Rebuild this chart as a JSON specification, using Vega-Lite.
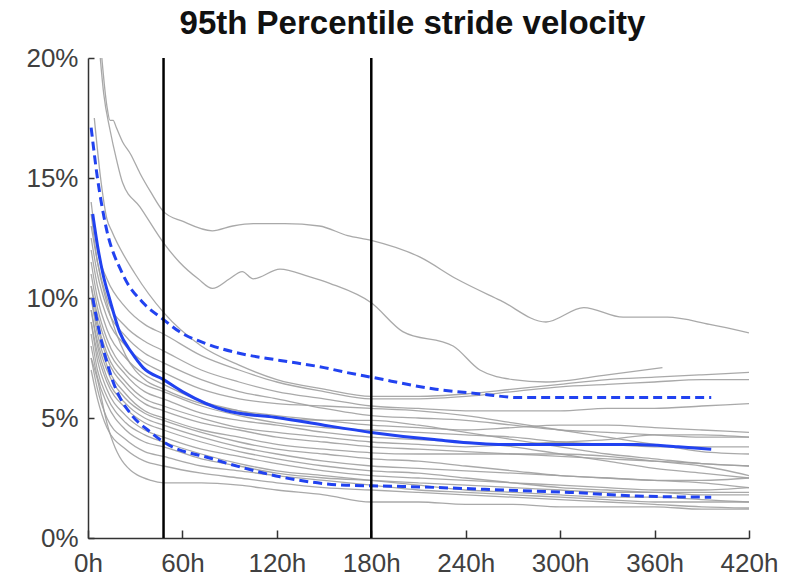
{
  "$schema": "https://vega.github.io/schema/vega-lite/v6.json",
  "autosize": {"type": "none"},
  "width": 661,
  "height": 480,
  "padding": {"left": 88, "top": 58, "right": 45, "bottom": 41},
  "background": "white",
  "config": {"view": {"stroke": null}},
  "title": {"text": "95th Percentile stride velocity", "font": "Liberation Sans", "fontSize": 33, "fontWeight": "bold", "color": "#111111", "anchor": "middle", "offset": 4, "dx": -6},
  "datasets": {
    "gray": [
      {"s":"gA","h":8,"v":20.6},{"s":"gA","h":12,"v":18},{"s":"gA","h":14,"v":17.4},{"s":"gA","h":16,"v":17.4},{"s":"gA","h":18,"v":17.1},{"s":"gA","h":22,"v":16.5},{"s":"gA","h":27,"v":16},{"s":"gA","h":33,"v":15.2},{"s":"gA","h":40,"v":14.4},{"s":"gA","h":48,"v":13.6},{"s":"gA","h":60,"v":13.2},{"s":"gA","h":79,"v":12.8},{"s":"gA","h":92,"v":13},{"s":"gA","h":105,"v":13.1},{"s":"gA","h":125,"v":13.1},{"s":"gA","h":147,"v":13},{"s":"gA","h":165,"v":12.6},{"s":"gA","h":180,"v":12.4},{"s":"gA","h":211,"v":11.7},{"s":"gA","h":234,"v":10.8},{"s":"gA","h":262,"v":9.9},{"s":"gA","h":291,"v":9.0},{"s":"gA","h":315,"v":9.6},{"s":"gA","h":340,"v":9.2},{"s":"gA","h":368,"v":9.2},{"s":"gA","h":395,"v":8.9},{"s":"gA","h":420,"v":8.55},
      {"s":"gB","h":7,"v":20.6},{"s":"gB","h":10,"v":18.5},{"s":"gB","h":14,"v":17},{"s":"gB","h":18,"v":15.8},{"s":"gB","h":22,"v":14.8},{"s":"gB","h":33,"v":13.8},{"s":"gB","h":48,"v":12.3},{"s":"gB","h":58,"v":11.5},{"s":"gB","h":70,"v":10.8},{"s":"gB","h":79,"v":10.4},{"s":"gB","h":90,"v":10.8},{"s":"gB","h":98,"v":11.1},{"s":"gB","h":105,"v":10.8},{"s":"gB","h":122,"v":11.2},{"s":"gB","h":140,"v":10.9},{"s":"gB","h":154,"v":10.6},{"s":"gB","h":180,"v":9.8},{"s":"gB","h":200,"v":8.6},{"s":"gB","h":232,"v":8.0},{"s":"gB","h":249,"v":7.0},{"s":"gB","h":270,"v":6.6},{"s":"gB","h":291,"v":6.5},{"s":"gB","h":330,"v":6.8},{"s":"gB","h":365,"v":7.1},
      {"s":"g1","h":4,"v":17.5},{"s":"g1","h":8,"v":15},{"s":"g1","h":12,"v":13.3},{"s":"g1","h":15,"v":12.8},{"s":"g1","h":30,"v":11},{"s":"g1","h":48,"v":9.4},{"s":"g1","h":72,"v":8.0},{"s":"g1","h":96,"v":7.2},{"s":"g1","h":120,"v":6.6},{"s":"g1","h":150,"v":6.2},{"s":"g1","h":180,"v":5.9},{"s":"g1","h":210,"v":5.9},{"s":"g1","h":240,"v":6.0},{"s":"g1","h":270,"v":6.2},{"s":"g1","h":300,"v":6.4},{"s":"g1","h":330,"v":6.6},{"s":"g1","h":360,"v":6.7},{"s":"g1","h":390,"v":6.8},{"s":"g1","h":420,"v":6.9},
      {"s":"g2","h":2,"v":14},{"s":"g2","h":6,"v":12},{"s":"g2","h":12,"v":10.8},{"s":"g2","h":24,"v":9.6},{"s":"g2","h":36,"v":8.9},{"s":"g2","h":48,"v":8.5},{"s":"g2","h":72,"v":7.6},{"s":"g2","h":96,"v":7.0},{"s":"g2","h":120,"v":6.5},{"s":"g2","h":150,"v":6.1},{"s":"g2","h":180,"v":5.8},{"s":"g2","h":210,"v":5.8},{"s":"g2","h":240,"v":5.9},{"s":"g2","h":270,"v":6.1},{"s":"g2","h":300,"v":6.3},{"s":"g2","h":330,"v":6.4},{"s":"g2","h":360,"v":6.5},{"s":"g2","h":390,"v":6.6},{"s":"g2","h":420,"v":6.6},
      {"s":"g3","h":2,"v":13},{"s":"g3","h":6,"v":11.5},{"s":"g3","h":12,"v":10},{"s":"g3","h":24,"v":8.8},{"s":"g3","h":36,"v":8.2},{"s":"g3","h":48,"v":7.8},{"s":"g3","h":72,"v":7.0},{"s":"g3","h":96,"v":6.5},{"s":"g3","h":120,"v":6.1},{"s":"g3","h":150,"v":5.8},{"s":"g3","h":180,"v":5.5},{"s":"g3","h":210,"v":5.4},{"s":"g3","h":240,"v":5.3},{"s":"g3","h":270,"v":5.3},{"s":"g3","h":300,"v":5.3},{"s":"g3","h":330,"v":5.4},{"s":"g3","h":360,"v":5.4},{"s":"g3","h":390,"v":5.5},{"s":"g3","h":420,"v":5.6},
      {"s":"g4","h":2,"v":12.5},{"s":"g4","h":6,"v":11},{"s":"g4","h":12,"v":9.6},{"s":"g4","h":24,"v":8.4},{"s":"g4","h":36,"v":7.7},{"s":"g4","h":48,"v":7.3},{"s":"g4","h":72,"v":6.6},{"s":"g4","h":96,"v":6.1},{"s":"g4","h":120,"v":5.8},{"s":"g4","h":150,"v":5.4},{"s":"g4","h":180,"v":5.1},{"s":"g4","h":210,"v":5.0},{"s":"g4","h":240,"v":4.9},{"s":"g4","h":270,"v":4.7},{"s":"g4","h":300,"v":4.5},{"s":"g4","h":330,"v":4.4},{"s":"g4","h":360,"v":4.3},{"s":"g4","h":390,"v":4.2},{"s":"g4","h":420,"v":4.2},
      {"s":"g5","h":2,"v":12},{"s":"g5","h":6,"v":10.5},{"s":"g5","h":12,"v":9.2},{"s":"g5","h":24,"v":8},{"s":"g5","h":36,"v":7.3},{"s":"g5","h":48,"v":6.9},{"s":"g5","h":72,"v":6.2},{"s":"g5","h":96,"v":5.8},{"s":"g5","h":120,"v":5.6},{"s":"g5","h":150,"v":5.5},{"s":"g5","h":180,"v":5.4},{"s":"g5","h":210,"v":5.3},{"s":"g5","h":240,"v":5.1},{"s":"g5","h":270,"v":4.8},{"s":"g5","h":300,"v":4.5},{"s":"g5","h":330,"v":4.2},{"s":"g5","h":360,"v":3.9},{"s":"g5","h":390,"v":3.6},{"s":"g5","h":420,"v":3.5},
      {"s":"g6","h":2,"v":11.5},{"s":"g6","h":6,"v":10},{"s":"g6","h":12,"v":8.7},{"s":"g6","h":24,"v":7.5},{"s":"g6","h":36,"v":6.8},{"s":"g6","h":48,"v":6.4},{"s":"g6","h":72,"v":5.7},{"s":"g6","h":96,"v":5.3},{"s":"g6","h":120,"v":5.0},{"s":"g6","h":150,"v":4.9},{"s":"g6","h":180,"v":4.9},{"s":"g6","h":210,"v":4.7},{"s":"g6","h":240,"v":4.4},{"s":"g6","h":270,"v":4.1},{"s":"g6","h":300,"v":3.8},{"s":"g6","h":330,"v":3.5},{"s":"g6","h":360,"v":3.3},{"s":"g6","h":390,"v":3.1},{"s":"g6","h":420,"v":3.0},
      {"s":"g7","h":2,"v":11},{"s":"g7","h":6,"v":9.6},{"s":"g7","h":12,"v":8.3},{"s":"g7","h":24,"v":7.0},{"s":"g7","h":36,"v":6.4},{"s":"g7","h":48,"v":6.1},{"s":"g7","h":72,"v":5.5},{"s":"g7","h":96,"v":5.1},{"s":"g7","h":120,"v":4.8},{"s":"g7","h":150,"v":4.6},{"s":"g7","h":180,"v":4.5},{"s":"g7","h":210,"v":4.4},{"s":"g7","h":240,"v":4.3},{"s":"g7","h":270,"v":4.2},{"s":"g7","h":300,"v":4.0},{"s":"g7","h":330,"v":3.9},{"s":"g7","h":360,"v":3.8},{"s":"g7","h":390,"v":3.8},{"s":"g7","h":420,"v":3.8},
      {"s":"g8","h":2,"v":10.5},{"s":"g8","h":6,"v":9.3},{"s":"g8","h":12,"v":8.0},{"s":"g8","h":24,"v":6.8},{"s":"g8","h":36,"v":6.1},{"s":"g8","h":48,"v":5.8},{"s":"g8","h":72,"v":5.2},{"s":"g8","h":96,"v":4.9},{"s":"g8","h":120,"v":4.7},{"s":"g8","h":150,"v":4.4},{"s":"g8","h":180,"v":4.2},{"s":"g8","h":210,"v":4.1},{"s":"g8","h":240,"v":4.0},{"s":"g8","h":270,"v":3.8},{"s":"g8","h":300,"v":3.5},{"s":"g8","h":330,"v":3.2},{"s":"g8","h":360,"v":2.9},{"s":"g8","h":390,"v":2.7},{"s":"g8","h":420,"v":2.5},
      {"s":"g9","h":2,"v":10.5},{"s":"g9","h":6,"v":9},{"s":"g9","h":12,"v":7.7},{"s":"g9","h":24,"v":6.5},{"s":"g9","h":36,"v":5.8},{"s":"g9","h":48,"v":5.5},{"s":"g9","h":72,"v":5.0},{"s":"g9","h":96,"v":4.6},{"s":"g9","h":120,"v":4.4},{"s":"g9","h":150,"v":4.2},{"s":"g9","h":180,"v":4.0},{"s":"g9","h":210,"v":3.9},{"s":"g9","h":240,"v":3.8},{"s":"g9","h":270,"v":3.9},{"s":"g9","h":300,"v":4.0},{"s":"g9","h":330,"v":4.1},{"s":"g9","h":360,"v":4.3},{"s":"g9","h":390,"v":4.3},{"s":"g9","h":420,"v":4.2},
      {"s":"g10","h":2,"v":10},{"s":"g10","h":6,"v":8.8},{"s":"g10","h":12,"v":7.5},{"s":"g10","h":24,"v":6.3},{"s":"g10","h":36,"v":5.6},{"s":"g10","h":48,"v":5.3},{"s":"g10","h":72,"v":4.8},{"s":"g10","h":96,"v":4.5},{"s":"g10","h":120,"v":4.2},{"s":"g10","h":150,"v":4.0},{"s":"g10","h":180,"v":3.8},{"s":"g10","h":210,"v":3.7},{"s":"g10","h":240,"v":3.6},{"s":"g10","h":270,"v":3.5},{"s":"g10","h":300,"v":3.4},{"s":"g10","h":330,"v":3.3},{"s":"g10","h":360,"v":3.2},{"s":"g10","h":390,"v":3.1},{"s":"g10","h":420,"v":3.0},
      {"s":"g11","h":2,"v":10},{"s":"g11","h":6,"v":8.5},{"s":"g11","h":12,"v":7.2},{"s":"g11","h":24,"v":6.0},{"s":"g11","h":36,"v":5.3},{"s":"g11","h":48,"v":5.0},{"s":"g11","h":72,"v":4.5},{"s":"g11","h":96,"v":4.2},{"s":"g11","h":120,"v":3.9},{"s":"g11","h":150,"v":3.7},{"s":"g11","h":180,"v":3.55},{"s":"g11","h":210,"v":3.5},{"s":"g11","h":240,"v":3.5},{"s":"g11","h":270,"v":3.5},{"s":"g11","h":300,"v":3.5},{"s":"g11","h":330,"v":3.4},{"s":"g11","h":360,"v":3.2},{"s":"g11","h":390,"v":3.0},{"s":"g11","h":420,"v":2.6},
      {"s":"g12","h":2,"v":9.5},{"s":"g12","h":6,"v":8.2},{"s":"g12","h":12,"v":7.0},{"s":"g12","h":24,"v":5.8},{"s":"g12","h":36,"v":5.2},{"s":"g12","h":48,"v":4.9},{"s":"g12","h":72,"v":4.4},{"s":"g12","h":96,"v":4.0},{"s":"g12","h":120,"v":3.7},{"s":"g12","h":150,"v":3.5},{"s":"g12","h":180,"v":3.3},{"s":"g12","h":210,"v":3.2},{"s":"g12","h":240,"v":3.0},{"s":"g12","h":270,"v":2.8},{"s":"g12","h":300,"v":2.6},{"s":"g12","h":330,"v":2.5},{"s":"g12","h":360,"v":2.4},{"s":"g12","h":390,"v":2.3},{"s":"g12","h":420,"v":2.1},
      {"s":"g13","h":2,"v":9.5},{"s":"g13","h":6,"v":8.0},{"s":"g13","h":12,"v":6.7},{"s":"g13","h":24,"v":5.6},{"s":"g13","h":36,"v":5.0},{"s":"g13","h":48,"v":4.7},{"s":"g13","h":72,"v":4.2},{"s":"g13","h":96,"v":3.8},{"s":"g13","h":120,"v":3.5},{"s":"g13","h":150,"v":3.2},{"s":"g13","h":180,"v":3.0},{"s":"g13","h":210,"v":2.9},{"s":"g13","h":240,"v":2.8},{"s":"g13","h":270,"v":2.7},{"s":"g13","h":300,"v":2.6},{"s":"g13","h":330,"v":2.5},{"s":"g13","h":360,"v":2.4},{"s":"g13","h":390,"v":2.4},{"s":"g13","h":420,"v":2.5},
      {"s":"g14","h":2,"v":9},{"s":"g14","h":6,"v":7.7},{"s":"g14","h":12,"v":6.5},{"s":"g14","h":24,"v":5.4},{"s":"g14","h":36,"v":4.8},{"s":"g14","h":48,"v":4.5},{"s":"g14","h":72,"v":4.0},{"s":"g14","h":96,"v":3.6},{"s":"g14","h":120,"v":3.3},{"s":"g14","h":150,"v":3.0},{"s":"g14","h":180,"v":2.8},{"s":"g14","h":210,"v":2.7},{"s":"g14","h":240,"v":2.5},{"s":"g14","h":270,"v":2.3},{"s":"g14","h":300,"v":2.1},{"s":"g14","h":330,"v":2.0},{"s":"g14","h":360,"v":1.9},{"s":"g14","h":390,"v":1.9},{"s":"g14","h":420,"v":1.9},
      {"s":"g15","h":2,"v":9},{"s":"g15","h":6,"v":7.4},{"s":"g15","h":12,"v":6.2},{"s":"g15","h":24,"v":5.1},{"s":"g15","h":36,"v":4.5},{"s":"g15","h":48,"v":4.2},{"s":"g15","h":72,"v":3.7},{"s":"g15","h":96,"v":3.4},{"s":"g15","h":120,"v":3.1},{"s":"g15","h":150,"v":2.8},{"s":"g15","h":180,"v":2.6},{"s":"g15","h":210,"v":2.5},{"s":"g15","h":240,"v":2.4},{"s":"g15","h":270,"v":2.3},{"s":"g15","h":300,"v":2.2},{"s":"g15","h":330,"v":2.1},{"s":"g15","h":360,"v":2.0},{"s":"g15","h":390,"v":2.0},{"s":"g15","h":420,"v":2.1},
      {"s":"g16","h":2,"v":8.5},{"s":"g16","h":6,"v":7.0},{"s":"g16","h":12,"v":5.9},{"s":"g16","h":24,"v":4.8},{"s":"g16","h":36,"v":4.3},{"s":"g16","h":48,"v":4.0},{"s":"g16","h":72,"v":3.5},{"s":"g16","h":96,"v":3.1},{"s":"g16","h":120,"v":2.8},{"s":"g16","h":150,"v":2.6},{"s":"g16","h":180,"v":2.4},{"s":"g16","h":210,"v":2.2},{"s":"g16","h":240,"v":2.0},{"s":"g16","h":270,"v":1.9},{"s":"g16","h":300,"v":1.8},{"s":"g16","h":330,"v":1.7},{"s":"g16","h":360,"v":1.7},{"s":"g16","h":390,"v":1.6},{"s":"g16","h":420,"v":1.5},
      {"s":"g17","h":2,"v":8},{"s":"g17","h":6,"v":6.7},{"s":"g17","h":12,"v":5.6},{"s":"g17","h":24,"v":4.5},{"s":"g17","h":36,"v":4.0},{"s":"g17","h":48,"v":3.8},{"s":"g17","h":72,"v":3.3},{"s":"g17","h":96,"v":3.0},{"s":"g17","h":120,"v":2.7},{"s":"g17","h":150,"v":2.5},{"s":"g17","h":180,"v":2.4},{"s":"g17","h":210,"v":2.3},{"s":"g17","h":240,"v":2.2},{"s":"g17","h":270,"v":2.1},{"s":"g17","h":300,"v":2.0},{"s":"g17","h":330,"v":1.9},{"s":"g17","h":360,"v":1.9},{"s":"g17","h":390,"v":1.8},{"s":"g17","h":420,"v":1.8},
      {"s":"g18","h":2,"v":7.5},{"s":"g18","h":6,"v":6.2},{"s":"g18","h":12,"v":5.0},{"s":"g18","h":24,"v":4.1},{"s":"g18","h":36,"v":3.6},{"s":"g18","h":48,"v":3.4},{"s":"g18","h":72,"v":3.0},{"s":"g18","h":96,"v":2.8},{"s":"g18","h":120,"v":2.6},{"s":"g18","h":150,"v":2.4},{"s":"g18","h":180,"v":2.2},{"s":"g18","h":210,"v":2.0},{"s":"g18","h":240,"v":1.9},{"s":"g18","h":270,"v":1.8},{"s":"g18","h":300,"v":1.7},{"s":"g18","h":330,"v":1.6},{"s":"g18","h":360,"v":1.5},{"s":"g18","h":390,"v":1.5},{"s":"g18","h":420,"v":1.5},
      {"s":"g19","h":2,"v":7},{"s":"g19","h":6,"v":5.8},{"s":"g19","h":12,"v":4.6},{"s":"g19","h":24,"v":3.7},{"s":"g19","h":36,"v":3.2},{"s":"g19","h":48,"v":3.0},{"s":"g19","h":72,"v":2.7},{"s":"g19","h":96,"v":2.5},{"s":"g19","h":120,"v":2.3},{"s":"g19","h":150,"v":2.1},{"s":"g19","h":180,"v":2.0},{"s":"g19","h":210,"v":1.9},{"s":"g19","h":240,"v":1.8},{"s":"g19","h":270,"v":1.7},{"s":"g19","h":300,"v":1.6},{"s":"g19","h":330,"v":1.5},{"s":"g19","h":360,"v":1.4},{"s":"g19","h":390,"v":1.3},{"s":"g19","h":420,"v":1.25},
      {"s":"g20","h":2,"v":7.5},{"s":"g20","h":6,"v":6.6},{"s":"g20","h":12,"v":4.8},{"s":"g20","h":23,"v":3.1},{"s":"g20","h":40,"v":2.4},{"s":"g20","h":48,"v":2.3},{"s":"g20","h":72,"v":2.3},{"s":"g20","h":96,"v":2.2},{"s":"g20","h":120,"v":2.0},{"s":"g20","h":150,"v":1.8},{"s":"g20","h":180,"v":1.5},{"s":"g20","h":210,"v":1.5},{"s":"g20","h":240,"v":1.4},{"s":"g20","h":270,"v":1.4},{"s":"g20","h":300,"v":1.3},{"s":"g20","h":330,"v":1.3},{"s":"g20","h":360,"v":1.3},{"s":"g20","h":390,"v":1.2},{"s":"g20","h":420,"v":1.2},
      {"s":"g21","h":2,"v":13.5},{"s":"g21","h":6,"v":11.5},{"s":"g21","h":12,"v":9.8},{"s":"g21","h":24,"v":7.6},{"s":"g21","h":36,"v":6.6},{"s":"g21","h":48,"v":6.2},{"s":"g21","h":72,"v":5.6},{"s":"g21","h":96,"v":5.3},{"s":"g21","h":120,"v":5.1},{"s":"g21","h":150,"v":4.9},{"s":"g21","h":180,"v":4.7},{"s":"g21","h":210,"v":4.6},{"s":"g21","h":240,"v":4.5},{"s":"g21","h":270,"v":4.6},{"s":"g21","h":300,"v":4.7},{"s":"g21","h":330,"v":4.7},{"s":"g21","h":360,"v":4.6},{"s":"g21","h":390,"v":4.5},{"s":"g21","h":420,"v":4.4}
    ],
    "mean": [
      {"h":3,"v":13.5},{"h":6,"v":12.2},{"h":9.5,"v":11},{"h":14,"v":9.9},{"h":20,"v":8.6},{"h":28,"v":7.7},{"h":35,"v":7.1},{"h":48,"v":6.6},{"h":60,"v":6.1},{"h":88,"v":5.3},{"h":122,"v":5.0},{"h":150,"v":4.7},{"h":180,"v":4.4},{"h":220,"v":4.1},{"h":264,"v":3.9},{"h":300,"v":3.9},{"h":349,"v":3.9},{"h":375,"v":3.8},{"h":396,"v":3.7}
    ],
    "band": [
      {"s":"upper","h":2,"v":17.1},{"s":"upper","h":6,"v":15},{"s":"upper","h":11,"v":13.1},{"s":"upper","h":22,"v":11},{"s":"upper","h":35,"v":9.8},{"s":"upper","h":48,"v":9.1},{"s":"upper","h":58,"v":8.6},{"s":"upper","h":75,"v":8.1},{"s":"upper","h":96,"v":7.7},{"s":"upper","h":122,"v":7.4},{"s":"upper","h":150,"v":7.1},{"s":"upper","h":164,"v":6.9},{"s":"upper","h":180,"v":6.7},{"s":"upper","h":221,"v":6.2},{"s":"upper","h":250,"v":6.0},{"s":"upper","h":274,"v":5.85},{"s":"upper","h":327,"v":5.85},{"s":"upper","h":396,"v":5.85},
      {"s":"lower","h":3,"v":10},{"s":"lower","h":7.5,"v":8.5},{"s":"lower","h":16,"v":6.5},{"s":"lower","h":28,"v":5.1},{"s":"lower","h":38,"v":4.5},{"s":"lower","h":48,"v":4.0},{"s":"lower","h":79,"v":3.3},{"s":"lower","h":100,"v":2.9},{"s":"lower","h":122,"v":2.55},{"s":"lower","h":164,"v":2.2},{"s":"lower","h":200,"v":2.15},{"s":"lower","h":264,"v":2.0},{"s":"lower","h":306,"v":1.9},{"s":"lower","h":349,"v":1.75},{"s":"lower","h":396,"v":1.7}
    ],
    "marks": [{"h":48},{"h":180}]
  },
  "encoding": {
    "x": {"field": "h", "type": "quantitative", "scale": {"domain": [0, 420], "nice": false},
      "axis": {"title": null, "grid": false, "values": [0,60,120,180,240,300,360,420], "labelExpr": "datum.value + 'h'", "domainColor": "#333333", "domainWidth": 1.5, "tickColor": "#333333", "tickWidth": 1.5, "tickSize": -8, "labelFont": "Liberation Sans", "labelFontSize": 26, "labelColor": "#404040", "labelPadding": 20, "labelFlush": false}},
    "y": {"field": "v", "type": "quantitative", "scale": {"domain": [0, 20], "nice": false},
      "axis": {"title": null, "grid": false, "values": [0,5,10,15,20], "labelExpr": "datum.value + '%'", "domainColor": "#333333", "domainWidth": 1.5, "tickColor": "#333333", "tickWidth": 1.5, "tickSize": -6, "labelFont": "Liberation Sans", "labelFontSize": 26, "labelColor": "#404040", "labelPadding": 16}}
  },
  "layer": [
    {"data": {"name": "gray"}, "mark": {"type": "line", "color": "#a0a0a0", "strokeWidth": 1.3, "opacity": 0.9, "clip": true, "interpolate": "monotone"}, "encoding": {"detail": {"field": "s"}}},
    {"data": {"name": "band"}, "mark": {"type": "line", "color": "#2142f0", "strokeWidth": 3, "strokeDash": [9, 5], "clip": true, "interpolate": "monotone"}, "encoding": {"detail": {"field": "s"}}},
    {"data": {"name": "mean"}, "mark": {"type": "line", "color": "#2142f0", "strokeWidth": 3, "clip": true, "interpolate": "monotone"}},
    {"data": {"name": "marks"}, "mark": {"type": "rule", "color": "#000000", "strokeWidth": 2.5}, "encoding": {"x": {"field": "h", "type": "quantitative"}, "y": null}}
  ]
}
